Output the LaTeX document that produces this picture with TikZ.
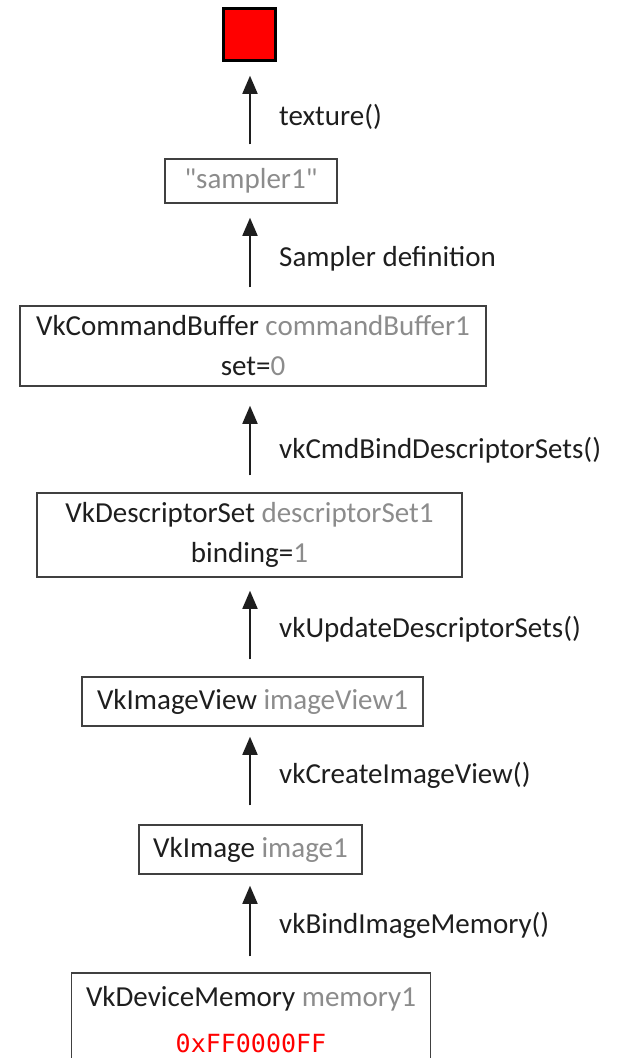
\documentclass[tikz,border=0pt]{standalone}
\usepackage{fontspec}
\setmainfont{Carlito}[Ligatures=TeXOff]
\newfontfamily\codefont{DejaVu Sans Mono}
\usetikzlibrary{arrows.meta}
\definecolor{lbl}{RGB}{140,140,140}
\definecolor{edge}{RGB}{64,64,64}
\definecolor{ink}{RGB}{30,30,30}
\begin{document}
\begin{tikzpicture}[x=1pt,y=-1pt,
  every node/.style={font=\fontsize{29}{40}\selectfont, text=ink},
  box/.style={draw=edge, line width=1.5pt, fill=white, inner sep=0pt, align=center},
  arr/.style={draw=ink, line width=1.8pt, -{Triangle[width=15pt,length=18pt]}},
  lab/.style={anchor=base west, inner sep=0pt}]
\useasboundingbox (0,0) rectangle (621,1058);
\coordinate (ax) at (250,0);
\node[draw=black, line width=2.5pt, fill=red, minimum width=52pt, minimum height=52pt, inner sep=0pt] (sq) at (249.5,34.5) {};
\node[box, minimum width=172pt, minimum height=44pt, text=lbl] (sampler) at (251,181) {"sampler1"};
\node[box, minimum width=466pt, minimum height=80pt] (cmd) at (253,346) {VkCommandBuffer \textcolor{lbl}{commandBuffer1}\\set=\textcolor{lbl}{0}};
\node[box, minimum width=425pt, minimum height=84pt] (desc) at (249.5,535) {VkDescriptorSet \textcolor{lbl}{descriptorSet1}\\binding=\textcolor{lbl}{1}};
\node[box, minimum width=341pt, minimum height=49pt] (view) at (252.5,701.5) {VkImageView \textcolor{lbl}{imageView1}};
\node[box, minimum width=223pt, minimum height=49pt] (img) at (250.5,849.5) {VkImage \textcolor{lbl}{image1}};
\node[box, minimum width=359pt, minimum height=94pt] (mem) at (251,1020) {VkDeviceMemory \textcolor{lbl}{memory1}\\[6pt]{\codefont\fontsize{25}{30}\selectfont\textcolor{red}{0xFF0000FF}}};
\draw[arr, shorten <=14pt, shorten >=14pt] (sampler.north -| ax) -- (sq.south -| ax);
\draw[arr, shorten <=18pt, shorten >=14pt] (cmd.north -| ax) -- (sampler.south -| ax);
\draw[arr, shorten <=17pt, shorten >=19pt] (desc.north -| ax) -- (cmd.south -| ax);
\draw[arr, shorten <=17pt, shorten >=13pt] (view.north -| ax) -- (desc.south -| ax);
\draw[arr, shorten <=19pt, shorten >=10pt] (img.north -| ax) -- (view.south -| ax);
\draw[arr, shorten <=16pt, shorten >=11pt] (mem.north -| ax) -- (img.south -| ax);
\node[lab] (l1) at (279,125) {texture()};
\node[lab] (l2) at (279,266) {Sampler definition};
\node[lab] (l3) at (279,458) {vkCmdBindDescriptorSets()};
\node[lab] (l4) at (279,637) {vkUpdateDescriptorSets()};
\node[lab] (l5) at (279,783) {vkCreateImageView()};
\node[lab] (l6) at (279,933) {vkBindImageMemory()};
\end{tikzpicture}
\end{document}
